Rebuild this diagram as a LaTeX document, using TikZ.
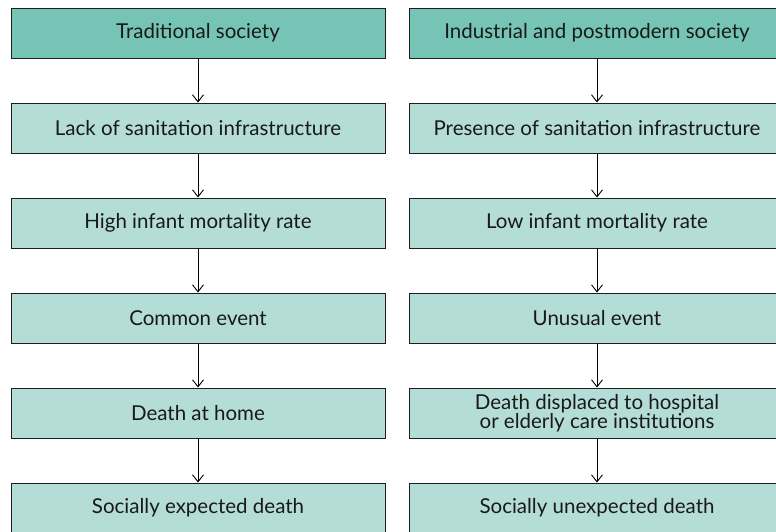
\documentclass[tikz,border=0pt]{standalone}
\usepackage{fontspec}
\setmainfont{Lato}
\usetikzlibrary{arrows.meta}
\definecolor{headfill}{HTML}{76C4B5}
\definecolor{boxfill}{HTML}{B3DDD6}
\definecolor{edge}{HTML}{1E1E1E}
\begin{document}
\begin{tikzpicture}[x=1pt,y=-1pt,
  box/.style={draw=edge, line width=1pt, fill=boxfill, rectangle, minimum height=50pt, inner sep=0pt, align=center, font=\fontsize{20.5}{19}\selectfont, text=black!90},
  head/.style={box, fill=headfill},
  lbox/.style={minimum width=374pt},
  rbox/.style={minimum width=376pt},
  arr/.style={draw=black, line width=0.9pt, -{Straight Barb[length=7pt,width=11pt,line width=0.9pt]}}]
\useasboundingbox (0,0) rectangle (776,531);
\begin{scope}
\clip (0,0) rectangle (776,531);
\node[head,lbox] (l1) at (198,33) {Traditional society};
\node[box,lbox] (l2) at (198,128) {Lack of sanitation infrastructure};
\node[box,lbox] (l3) at (198,223) {High infant mortality rate};
\node[box,lbox] (l4) at (198,318) {Common event};
\node[box,lbox] (l5) at (198,413) {Death at home};
\node[box,lbox] (l6) at (198,508) {Socially expected death};
\node[head,rbox] (r1) at (597,33) {Industrial and postmodern society};
\node[box,rbox] (r2) at (597,128) {Presence of sanitation infrastructure};
\node[box,rbox] (r3) at (597,223) {Low infant mortality rate};
\node[box,rbox] (r4) at (597,318) {Unusual event};
\node[box,rbox] (r5) at (597,413) {Death displaced to hospital\\or elderly care institutions};
\node[box,rbox] (r6) at (597,508) {Socially unexpected death};
\foreach \a/\b in {l1/l2,l2/l3,l3/l4,l4/l5,l5/l6,r1/r2,r2/r3,r3/r4,r4/r5,r5/r6}
  \draw[arr] (\a.south) -- (\b.north);
\end{scope}
\end{tikzpicture}
\end{document}
